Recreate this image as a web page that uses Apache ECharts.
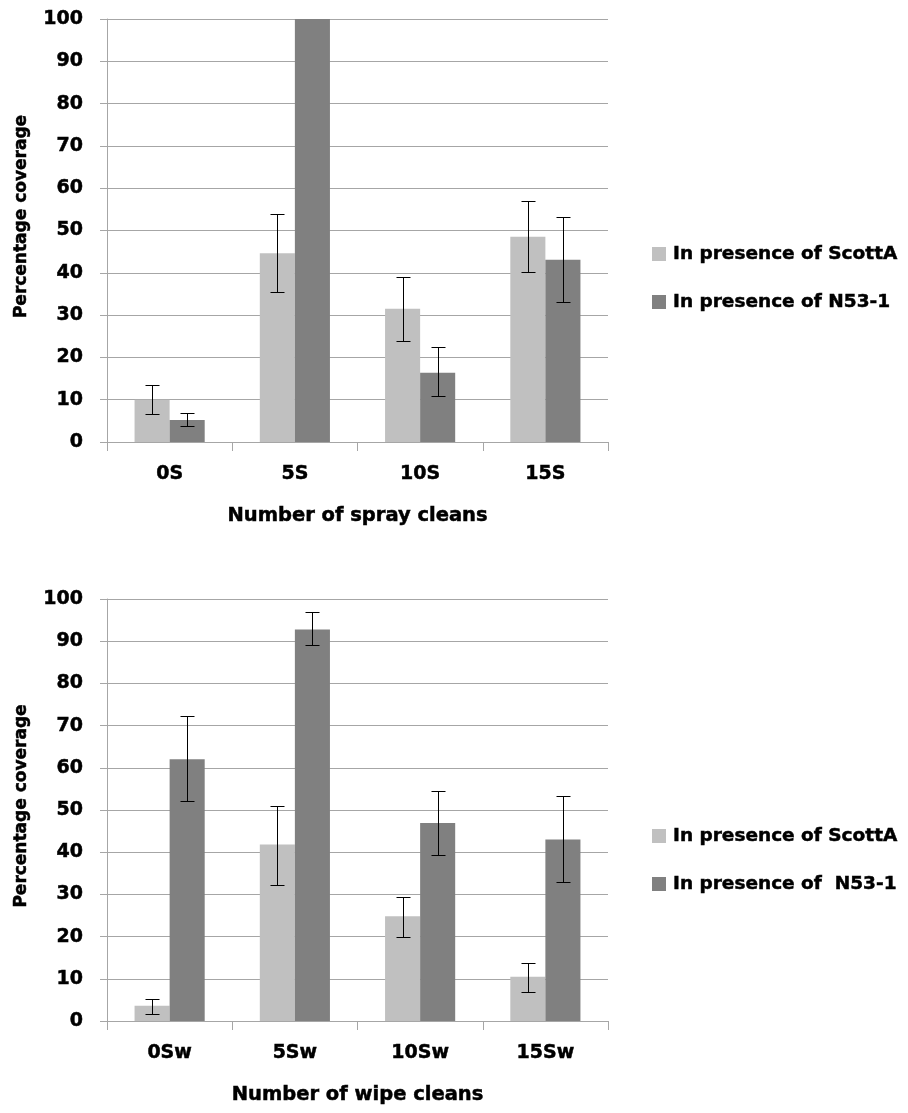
<!DOCTYPE html>
<html>
<head>
<meta charset="utf-8">
<script src="https://cdn.jsdelivr.net/npm/echarts@6/dist/echarts.min.js"></script>
<style>html,body{margin:0;padding:0;background:#fff}#c{width:908px;height:1113px}</style>
</head>
<body>
<div id="c"></div>
<script>
// ---- data ----
const sprayCategories = ['0S', '5S', '10S', '15S'];
const sprayScott = [10, 44.6, 31.5, 48.5];
const sprayScottErrLow = [6.6, 35.4, 23.9, 40.2];
const sprayScottErrHigh = [13.5, 54, 39, 57];
const sprayN53 = [5.2, 100, 16.4, 43.1];
const sprayN53ErrLow = [3.9, null, 10.9, 33];
const sprayN53ErrHigh = [6.9, null, 22.4, 53.3];

const wipeCategories = ['0Sw', '5Sw', '10Sw', '15Sw'];
const wipeScott = [3.6, 41.8, 24.8, 10.5];
const wipeScottErrLow = [1.7, 32.2, 20, 6.9];
const wipeScottErrHigh = [5.1, 51, 29.5, 13.7];
const wipeN53 = [62, 92.8, 46.9, 43];
const wipeN53ErrLow = [52.2, 89, 39.3, 32.9];
const wipeN53ErrHigh = [72.3, 97, 54.4, 53.3];

const yTicks = { min: 0, max: 100, interval: 10 };
const legendTop = ['In presence of ScottA', 'In presence of N53-1'];
const legendBottom = ['In presence of ScottA', 'In presence of  N53-1'];

// ---- style ----
const FONT = 'DejaVu Sans';
const LIGHT = '#C0C0C0';
const DARK = '#808080';
const GRID = '#A6A6A6';
const BAR_GAP_CAT = 0.44;
const HEAVY = { textBorderColor: '#000', textBorderWidth: 0.5 };

function errData(low, high) {
  const out = [];
  low.forEach((l, i) => { if (l != null && high[i] != null) out.push([i, l, high[i]]); });
  return out;
}

function errSeries(xi, side, low, high) {
  return {
    type: 'custom',
    xAxisIndex: xi, yAxisIndex: xi,
    silent: true,
    z: 5,
    data: errData(low, high),
    encode: { x: 0, y: [1, 2] },
    renderItem: function (params, api) {
      const i = api.value(0);
      const band = api.size([1, 0])[0];
      const barW = band * (1 - BAR_GAP_CAT) / 2;
      const off = side * barW / 2;
      const p1 = api.coord([i, api.value(1)]);
      const p2 = api.coord([i, api.value(2)]);
      const x = Math.round(p1[0] + off) + 0.5;
      const y1 = Math.round(p1[1]) + 0.5;
      const y2 = Math.round(p2[1]) + 0.5;
      const cap = 7;
      const st = { stroke: '#000', lineWidth: 1 };
      return {
        type: 'group',
        children: [
          { type: 'line', shape: { x1: x, y1: y1, x2: x, y2: y2 }, style: st },
          { type: 'line', shape: { x1: x - cap, y1: y1, x2: x + cap, y2: y1 }, style: st },
          { type: 'line', shape: { x1: x - cap, y1: y2, x2: x + cap, y2: y2 }, style: st }
        ]
      };
    }
  };
}

function xAx(gi, cats, name) {
  return {
    type: 'category', gridIndex: gi, data: cats,
    axisLine: { show: true, lineStyle: { color: GRID, width: 1 } },
    axisTick: { show: true, length: 9, lineStyle: { color: GRID } },
    axisLabel: Object.assign({ color: '#000', fontFamily: FONT, fontWeight: 'bold', fontSize: 19, margin: 23 }, HEAVY),
    name: name, nameLocation: 'middle', nameGap: 64,
    nameTextStyle: Object.assign({ color: '#000', fontFamily: FONT, fontWeight: 'bold', fontSize: 19.5 }, HEAVY)
  };
}
function yAx(gi, shift) {
  return {
    type: 'value', gridIndex: gi, min: yTicks.min, max: yTicks.max, interval: yTicks.interval,
    axisLine: { show: true, lineStyle: { color: GRID, width: 1 } },
    axisTick: { show: true, length: 7, lineStyle: { color: GRID } },
    splitLine: { show: true, lineStyle: { color: GRID, width: 1 } },
    axisLabel: Object.assign({ color: '#000', fontFamily: FONT, fontWeight: 'bold', fontSize: 19, margin: 24 }, HEAVY),
    name: 'Percentage coverage', nameLocation: 'middle', nameGap: 77,
    nameTextStyle: Object.assign({ color: '#000', fontFamily: FONT, fontWeight: 'bold', fontSize: 17, padding: [0, 0, 0, shift] }, HEAVY)
  };
}
function bar(xi, name, data, color) {
  return {
    type: 'bar', name: name, xAxisIndex: xi, yAxisIndex: xi, data: data,
    barGap: '0%', barCategoryGap: (BAR_GAP_CAT * 100) + '%',
    itemStyle: { color: color }
  };
}
function legend(top, names) {
  return {
    orient: 'vertical', left: 652, top: top, itemGap: 28, padding: 0,
    icon: 'rect', itemWidth: 14, itemHeight: 14,
    data: names,
    textStyle: Object.assign({ color: '#000', fontFamily: FONT, fontWeight: 'bold', fontSize: 18.5, lineHeight: 20, padding: [0, 0, 0, 2] }, HEAVY)
  };
}

const chart = echarts.init(document.getElementById('c'), null, { renderer: 'canvas' });
chart.setOption({
  backgroundColor: '#fff',
  animation: false,
  color: [LIGHT, DARK],
  grid: [
    { left: 107, top: 19, width: 501, height: 423 },
    { left: 107, top: 599, width: 501, height: 422 }
  ],
  legend: [legend(244, legendTop), legend(826, legendBottom)],
  xAxis: [xAx(0, sprayCategories, 'Number of spray cleans'), xAx(1, wipeCategories, 'Number of wipe cleans')],
  yAxis: [yAx(0, 28), yAx(1, 8)],
  series: [
    bar(0, legendTop[0], sprayScott, LIGHT),
    bar(0, legendTop[1], sprayN53, DARK),
    errSeries(0, -1, sprayScottErrLow, sprayScottErrHigh),
    errSeries(0, 1, sprayN53ErrLow, sprayN53ErrHigh),
    bar(1, legendBottom[0], wipeScott, LIGHT),
    bar(1, legendBottom[1], wipeN53, DARK),
    errSeries(1, -1, wipeScottErrLow, wipeScottErrHigh),
    errSeries(1, 1, wipeN53ErrLow, wipeN53ErrHigh)
  ]
});
</script>
</body>
</html>
